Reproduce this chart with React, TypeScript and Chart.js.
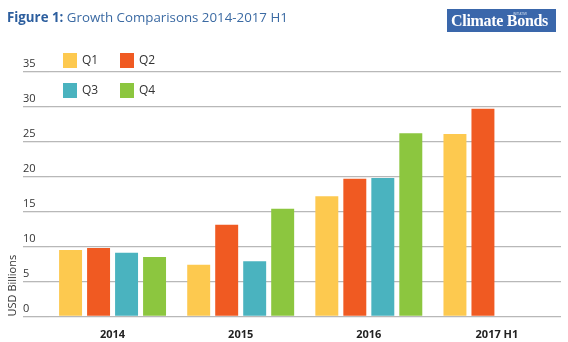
import React, { useEffect, useRef } from "react";
import { Chart, registerables } from "chart.js";

Chart.register(...registerables);

const categories = ["2014", "2015", "2016", "2017 H1"];
const seriesNames = ["Q1", "Q2", "Q3", "Q4"];
const q1 = [9.5, 7.4, 17.2, 26.1];
const q2 = [9.8, 13.1, 19.7, 29.7];
const q3 = [9.1, 7.9, 19.8, null];
const q4 = [8.5, 15.4, 26.2, null];
const seriesColors = ["#fdc94f", "#f05a22", "#4ab3bf", "#8cc63f"];
const yTicks = [0, 5, 10, 15, 20, 25, 30, 35];

const FONT = "'Open Sans', 'DejaVu Sans', sans-serif";
const GRID = "#b8b8b8";

export default function App() {
  const ref = useRef<HTMLCanvasElement | null>(null);

  useEffect(() => {
    const canvas = ref.current;
    if (!canvas) return;
    const values = [q1, q2, q3, q4];
    const chart = new Chart(canvas, {
      type: "bar",
      data: {
        labels: categories,
        datasets: seriesNames.map((name, i) => ({
          label: name,
          data: values[i],
          backgroundColor: seriesColors[i],
          borderWidth: 0,
          categoryPercentage: 0.874,
          barPercentage: 0.82,
        })),
      },
      options: {
        responsive: false,
        animation: false,
        layout: { padding: { top: 71.7, left: 0, right: 7, bottom: 0 } },
        plugins: {
          legend: { display: false },
          tooltip: { enabled: false },
          title: { display: false },
        },
        scales: {
          x: {
            grid: { display: false },
            border: { display: false },
            ticks: {
              padding: 4,
              color: "#222",
              font: { family: FONT, size: 11, weight: "bold" },
            },
            afterFit: (axis: any) => {
              axis.height = 25.5;
            },
          },
          y: {
            min: 0,
            max: 35,
            weight: 0,
            afterBuildTicks: (axis: any) => {
              axis.ticks = yTicks.map((v) => ({ value: v }));
            },
            grid: {
              color: GRID,
              lineWidth: 1.3,
              drawTicks: true,
              tickLength: 25.5,
              tickColor: GRID,
            },
            border: { display: false },
            ticks: {
              crossAlign: "far",
              labelOffset: -8,
              padding: 0,
              color: "#333",
              font: { family: FONT, size: 11 },
            },
            afterFit: (axis: any) => {
              axis.width = 25.5;
            },
          },
          yTitle: {
            type: "linear",
            position: "left",
            weight: 10,
            grid: { display: false },
            border: { display: false },
            ticks: { display: false },
            title: {
              display: true,
              text: "USD Billions",
              align: "start",
              color: "#333",
              padding: { top: 6, bottom: 0 },
              font: { family: FONT, size: 11 },
            },
            afterFit: (axis: any) => {
              axis.width = 23;
            },
          },
        },
      },
    });
    return () => chart.destroy();
  }, []);

  const legendPos = [
    [63, 53],
    [120, 53],
    [63, 83],
    [120, 83],
  ];

  return (
    <div style={{ position: "absolute", left: 0, top: 0, width: 568, height: 342, background: "#fff", overflow: "hidden" }}>
      <canvas ref={ref} width={568} height={342} style={{ position: "absolute", left: 0, top: 0 }} />
      <div
        style={{
          position: "absolute",
          left: 7,
          top: 7,
          fontFamily: FONT,
          fontSize: 13.3,
          color: "#3b6aa3",
          whiteSpace: "nowrap",
          lineHeight: "20px",
        }}
      >
        <span style={{ fontWeight: 700, color: "#2c5e9e" }}>Figure 1:</span> Growth Comparisons 2014-2017 H1
      </div>
      <div
        style={{
          position: "absolute",
          left: 447,
          top: 9,
          width: 109,
          height: 23,
          background: "#3a67ab",
        }}
      >
        <span
          style={{
            position: "absolute",
            left: 4,
            top: 1,
            fontFamily: "'Liberation Serif', 'Times New Roman', serif",
            fontWeight: 700,
            fontSize: 16,
            color: "#fff",
            whiteSpace: "nowrap",
            letterSpacing: -0.3,
            lineHeight: "21px",
          }}
        >
          Climate Bonds
        </span>
        <span
          style={{
            position: "absolute",
            left: 66,
            top: 3,
            fontFamily: FONT,
            fontSize: 3,
            color: "#dfe7f3",
            whiteSpace: "nowrap",
            lineHeight: "4px",
          }}
        >
          INITIATIVE
        </span>
      </div>
      {seriesNames.map((name, i) => (
        <div key={name}>
          <div
            style={{
              position: "absolute",
              left: legendPos[i][0],
              top: legendPos[i][1],
              width: 14,
              height: 15,
              background: seriesColors[i],
            }}
          />
          <div
            style={{
              position: "absolute",
              left: legendPos[i][0] + 19,
              top: legendPos[i][1] - 1,
              fontFamily: FONT,
              fontSize: 12,
              color: "#333",
              lineHeight: "16px",
            }}
          >
            {name}
          </div>
        </div>
      ))}
    </div>
  );
}
